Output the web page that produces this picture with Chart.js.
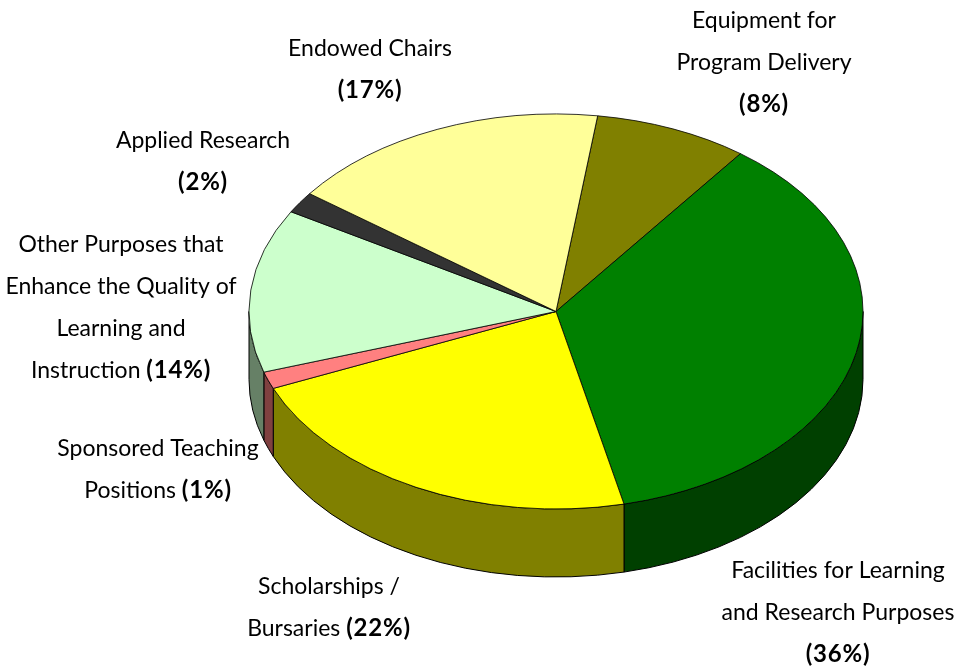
<!DOCTYPE html>
<html>
<head>
<meta charset="utf-8">
<title>Pie chart</title>
<style>
    html, body { margin: 0; padding: 0; background: #fff; }
    canvas { display: block; }
</style>
<script src="https://cdn.jsdelivr.net/npm/chart.js@4"></script>
</head>
<body>
<canvas id="chart" width="954" height="669"></canvas>
<script>
// Data read off the picture. Slices are measured from the drawing, they differ
// a little from the rounded percentages printed in the labels
var categories = ['Equipment for Program Delivery', 'Facilities for Learning and Research Purposes', 'Scholarships / Bursaries', 'Sponsored Teaching Positions', 'Other Purposes that Enhance the Quality of Learning and Instruction', 'Applied Research', 'Endowed Chairs'];
var shares = [8.1, 36.2, 22.2, 1.4, 13.4, 1.75, 17.0];
var printedPercents = [8, 36, 22, 1, 14, 2, 17];
var topColors = ['#808000', '#008000', '#ffff00', '#ff8080', '#ccffcc', '#333333', '#ffff99'];
var sideColors = ['#404000', '#004000', '#808000', '#804040', '#668066', '#1a1a1a', '#808050'];

// Wrapped label text, the percentage goes after the last line
var labelLines = [
    ['Equipment for', 'Program Delivery', ''],
    ['Facilities for Learning', 'and Research Purposes', ''],
    ['Scholarships /', 'Bursaries '],
    ['Sponsored Teaching', 'Positions '],
    ['Other Purposes that', 'Enhance the Quality of', 'Learning and', 'Instruction '],
    ['Applied Research', ''],
    ['Endowed Chairs', '']
];

// Centre x and first baseline of each label, same order as categories
var labelCenterX = [764, 838, 329, 158, 121, 203, 370];
var labelFirstY = [28, 578, 594, 456, 252, 148, 56];
var lineStep = 42;

var ellipse = { x: 556, y: 311.5, rx: 307, ry: 197.5, depth: 68 };
var fontFamily = 'Lato, "Open Sans", sans-serif';
var fontSize = 23;
var boldSize = 24;

// Squashes the library's round pie into the tilted ellipse and adds the wall under it
var tiltPlugin = {
    id: 'tilt',
    beforeDatasetsDraw: function (chart) {
        var ctx = chart.ctx;
        var arcs = chart.getDatasetMeta(0).data;
        var r = arcs[0].outerRadius;

        ctx.save();
        ctx.lineWidth = 1;
        ctx.strokeStyle = '#000';
        arcs.forEach(function (arc, i) {
            // only the part of a slice on the front half has a visible wall
            for (var k = -1; k <= 1; k++) {
                var from = Math.max(arc.startAngle, 2 * Math.PI * k);
                var to = Math.min(arc.endAngle, Math.PI + 2 * Math.PI * k);
                if (from >= to) continue;
                ctx.beginPath();
                ctx.ellipse(ellipse.x, ellipse.y, ellipse.rx, ellipse.ry, 0, from, to);
                ctx.ellipse(ellipse.x, ellipse.y + ellipse.depth, ellipse.rx, ellipse.ry, 0, to, from, true);
                ctx.closePath();
                ctx.fillStyle = sideColors[i];
                ctx.fill();
                ctx.stroke();
            }
        });
        ctx.restore();

        ctx.save();
        ctx.translate(ellipse.x, ellipse.y);
        ctx.scale(ellipse.rx / r, ellipse.ry / r);
        ctx.translate(-arcs[0].x, -arcs[0].y);
    },
    afterDatasetsDraw: function (chart) {
        chart.ctx.restore();
    },
    afterDraw: function (chart) {
        var ctx = chart.ctx;
        var normal = fontSize + 'px ' + fontFamily;
        var bold = 'bold ' + boldSize + 'px ' + fontFamily;

        ctx.save();
        ctx.fillStyle = '#000';
        ctx.textBaseline = 'alphabetic';
        ctx.textAlign = 'left';
        labelLines.forEach(function (lines, i) {
            lines.forEach(function (line, j) {
                var isLast = j === lines.length - 1;
                var pct = isLast ? '(' + printedPercents[i] + '%)' : '';
                ctx.letterSpacing = '0px';
                ctx.font = normal;
                var w1 = ctx.measureText(line).width;
                ctx.font = bold;
                ctx.letterSpacing = '0.8px';
                var w2 = pct ? ctx.measureText(pct).width : 0;
                var x = labelCenterX[i] - (w1 + w2) / 2;
                var y = labelFirstY[i] + j * lineStep;
                if (pct) {
                    ctx.fillText(pct, x + w1, y);
                }
                if (line) {
                    ctx.letterSpacing = '0px';
                    ctx.font = normal;
                    ctx.fillText(line, x, y);
                }
            });
        });
        ctx.restore();
    }
};

new Chart(document.getElementById('chart').getContext('2d'), {
    type: 'pie',
    data: {
        labels: categories,
        datasets: [{
            data: shares,
            backgroundColor: topColors,
            borderColor: '#000',
            borderWidth: 1,
            borderAlign: 'center'
        }]
    },
    options: {
        responsive: false,
        animation: false,
        rotation: 7.8,
        layout: { padding: 20 },
        plugins: {
            legend: { display: false },
            tooltip: { enabled: false }
        }
    },
    plugins: [tiltPlugin]
});
</script>
</body>
</html>
